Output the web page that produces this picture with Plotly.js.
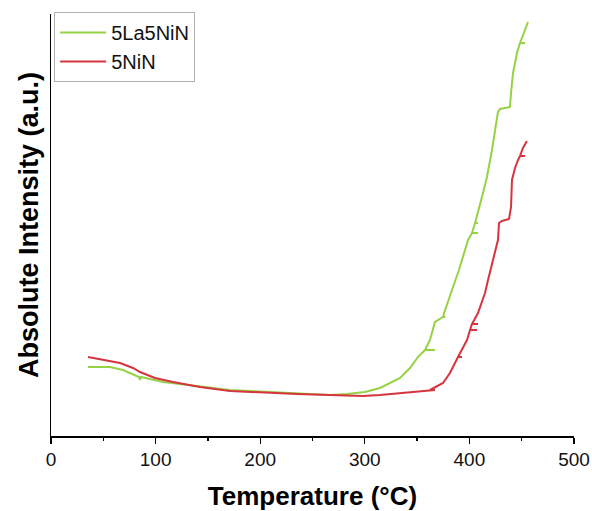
<!DOCTYPE html>
<html>
<head>
<meta charset="utf-8">
<script src="https://cdn.plot.ly/plotly-3.0.1.min.js"></script>
<style>html,body{margin:0;padding:0;background:#fff}#chart{width:592px;height:511px}</style>
</head>
<body>
<div id="chart"></div>
<script>
// 5La5NiN (green): temperature (°C) and intensity (a.u.)
var tempLa = [35.4, 56.4, 68.8, 80.3, 84.1, 85.1, 86.0, 107.1, 142.4, 171.1, 209.4, 266.7, 283.0, 300.2, 314.5, 327.0, 333.7, 343.2, 350.9,
  357.6, 367.1, 357.6, 362.3, 367.1, 374.8, 377.0, 374.8, 375.8, 382.4, 390.0, 398.7,
  402.5, 408.2, 402.5, 405.4, 408.2, 405.4, 412.0, 416.8, 421.6, 424.5, 427.3, 429.3, 436.9, 438.8, 439.8, 441.7, 445.5,
  448.4, 453.2, 448.4, 456.0];
var intLa = [69, 69, 66, 61, 59, 56, 59, 54, 50, 46, 44, 41, 42, 44, 48, 54, 58, 68, 79,
  86, 86, 86, 96, 114, 119, 119, 119, 123, 143, 166, 196,
  203, 203, 203, 213, 213, 213, 239, 259, 286, 306, 324, 327, 328, 329, 343, 363, 383,
  393, 393, 393, 414];

// 5NiN (red)
var tempNi = [35.4, 51.6, 66.0, 78.4, 85.1, 99.4, 116.6, 142.4, 171.1, 235.2, 298.3, 314.5,
  362.3, 367.1, 362.3, 374.8, 381.4, 389.1, 392.9, 389.1, 397.7, 400.6, 407.3, 400.6, 402.5, 408.2, 402.5,
  408.2, 414.9, 417.8, 427.3, 428.3, 431.2, 437.9, 439.8, 440.7, 443.6, 446.5, 448.4, 453.2, 448.4, 451.2, 455.0];
var intNi = [79, 76, 73, 68, 64, 58, 54, 49, 45, 42, 40, 41,
  46, 46, 46, 53, 63, 79, 79, 79, 96, 106, 106, 106, 112, 112, 112,
  123, 143, 156, 196, 213, 215, 217, 229, 256, 268, 276, 280, 280, 280, 288, 295];

var xTicks = [0, 100, 200, 300, 400, 500];
var xMinor = [50, 150, 250, 350, 450];

var traces = [
  {x: tempLa, y: intLa, name: '5La5NiN', mode: 'lines', line: {color: 'rgb(150,210,70)', width: 2}},
  {x: tempNi, y: intNi, name: '5NiN', mode: 'lines', line: {color: 'rgb(214,52,62)', width: 2}}
];

var layout = {
  width: 592, height: 511,
  margin: {l: 51, r: 18, t: 14, b: 75},
  paper_bgcolor: '#fff', plot_bgcolor: '#fff',
  font: {family: 'Liberation Sans, Arial, sans-serif', color: '#000'},
  showlegend: true,
  legend: {x: 0.006, y: 1.005, xanchor: 'left', yanchor: 'top', bordercolor: '#b0b0b0', borderwidth: 1,
           bgcolor: '#fff', font: {size: 20, color: '#111'}, tracegroupgap: 0, itemwidth: 46},
  xaxis: {
    range: [0, 500], tickmode: 'array', tickvals: xTicks, ticktext: xTicks.map(String),
    ticks: 'outside', ticklen: 6, tickwidth: 1.3, tickcolor: '#000',
    showline: true, linecolor: '#000', linewidth: 1.5, showgrid: false, zeroline: false,
    tickfont: {size: 19, color: '#111'},
    minor: {tickvals: xMinor, ticks: 'outside', ticklen: 3, tickwidth: 1.3, tickcolor: '#000', showgrid: false},
    title: {text: '<b>Temperature (°C)</b>', font: {size: 26, color: '#000'}, standoff: 17}
  },
  yaxis: {
    range: [0, 422], showticklabels: false, ticks: '', showgrid: false, zeroline: false,
    showline: true, linecolor: '#000', linewidth: 1.5,
    title: {text: '<b>Absolute Intensity (a.u.)</b>', font: {size: 27, color: '#000'}, standoff: 3}
  }
};

Plotly.newPlot('chart', traces, layout, {displayModeBar: false, staticPlot: true});
</script>
</body>
</html>
